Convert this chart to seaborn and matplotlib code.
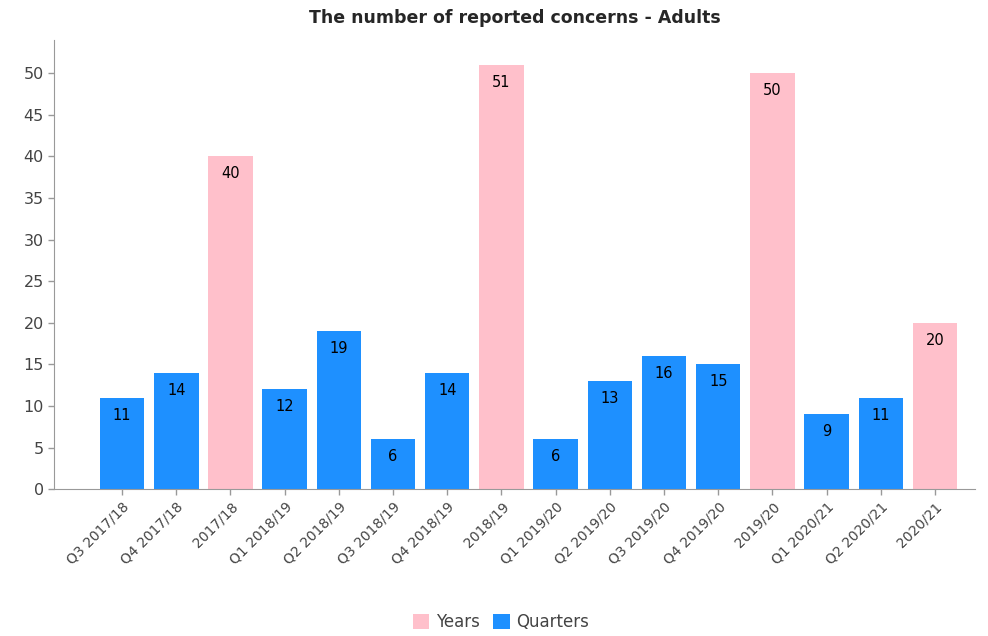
import matplotlib
matplotlib.use('Agg')
import matplotlib.pyplot as plt
import pandas as pd
import seaborn as sns

periods = ['Q3 2017/18', 'Q4 2017/18', '2017/18', 'Q1 2018/19', 'Q2 2018/19',
           'Q3 2018/19', 'Q4 2018/19', '2018/19', 'Q1 2019/20', 'Q2 2019/20',
           'Q3 2019/20', 'Q4 2019/20', '2019/20', 'Q1 2020/21', 'Q2 2020/21',
           '2020/21']
concerns = [11, 14, 40, 12, 19, 6, 14, 51, 6, 13, 16, 15, 50, 9, 11, 20]
kinds = ['Quarters', 'Quarters', 'Years', 'Quarters', 'Quarters', 'Quarters',
         'Quarters', 'Years', 'Quarters', 'Quarters', 'Quarters', 'Quarters',
         'Years', 'Quarters', 'Quarters', 'Years']
colours = {'Years': '#FFC0CB', 'Quarters': '#1E90FF'}


def main():
    sns.set_style('white')
    plt.rcParams['font.family'] = ['DejaVu Sans']
    data = pd.DataFrame({'period': periods, 'concerns': concerns, 'kind': kinds})

    fig = plt.figure(figsize=(9.88, 6.36), dpi=100)
    ax = fig.add_axes([0.055, 0.231, 0.932, 0.706])
    sns.barplot(data=data, x='period', y='concerns', hue='kind',
                hue_order=['Years', 'Quarters'], palette=colours,
                dodge=False, width=0.82, saturation=1, ax=ax, legend=True,
                edgecolor='none')

    for cont in ax.containers:
        ax.bar_label(cont, padding=-18, fontsize=10.5, color='black')

    ax.set_xlim(-1.25, 15.74)
    ax.set_ylim(0, 54)
    ax.set_yticks(range(0, 55, 5))
    ax.set_xlabel('')
    ax.set_ylabel('')
    ax.set_title('The number of reported concerns - Adults', fontsize=12.5,
                 fontweight='bold', pad=12)

    for side in ['top', 'right']:
        ax.spines[side].set_visible(False)
    for side in ['left', 'bottom']:
        ax.spines[side].set_color('#999999')
    ax.tick_params(axis='both', colors='#999999', labelcolor='#444444',
                   direction='out', length=4, width=1, left=True, bottom=True)
    ax.tick_params(axis='y', labelsize=11.5)
    ax.tick_params(axis='x', labelsize=10)
    plt.setp(ax.get_xticklabels(), rotation=45, ha='right',
             rotation_mode='anchor')

    ax.legend(loc='lower center', bbox_to_anchor=(0.485, -0.35), ncol=2,
              frameon=False, fontsize=12, handlelength=1.0, handleheight=1.0,
              columnspacing=0.8, handletextpad=0.4, labelcolor='#444444')

    fig.savefig('out.png', dpi=100)


if __name__ == '__main__':
    main()
